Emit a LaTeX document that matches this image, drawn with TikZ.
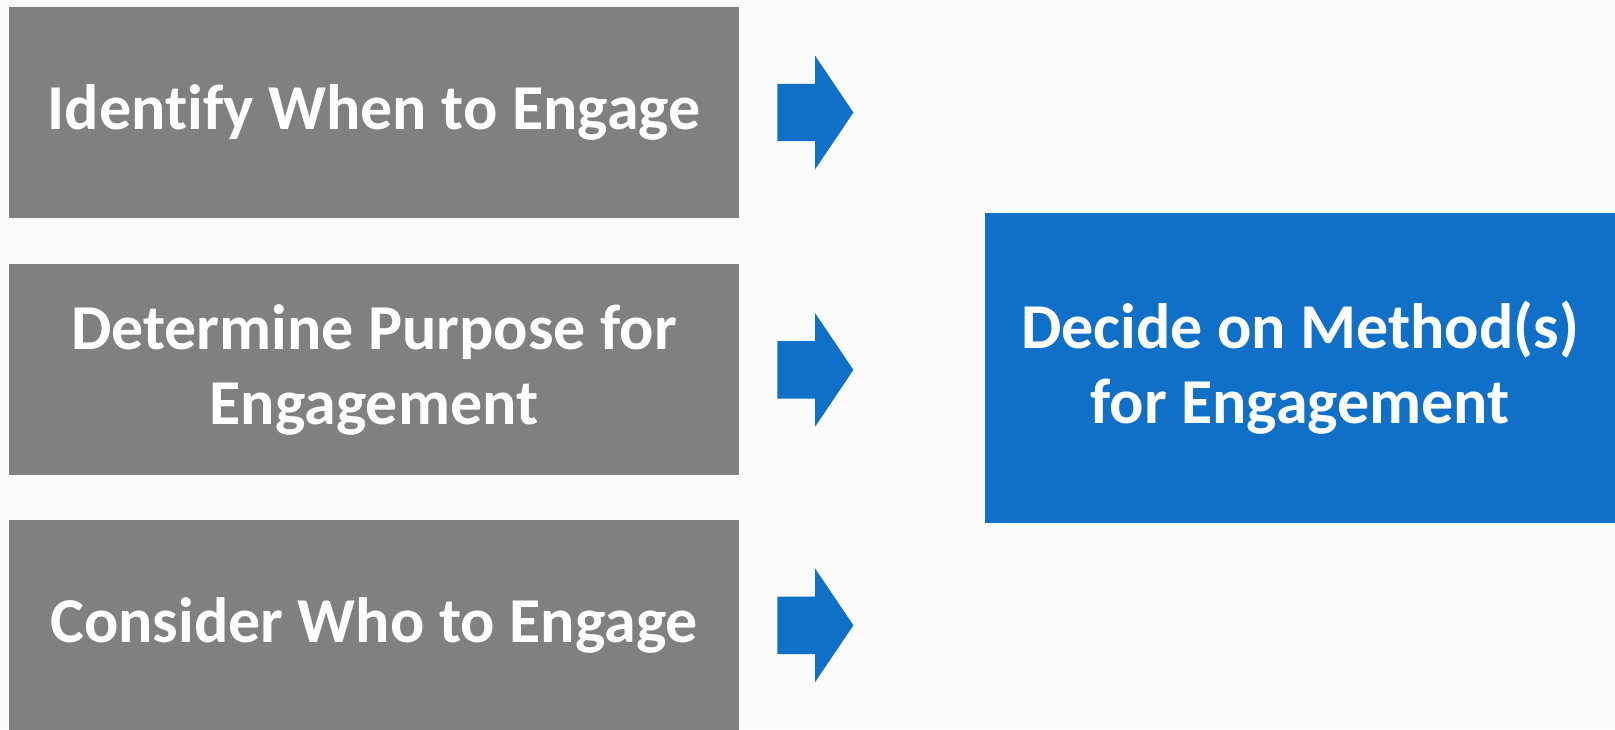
\documentclass[tikz,border=0pt]{standalone}
\usepackage{fontspec}
\setmainfont{Carlito}[Ligatures={NoCommon}]
\usepackage{tikz}
\usetikzlibrary{positioning}
\usetikzlibrary{shapes.arrows}
\definecolor{stepgray}{RGB}{128,128,128}
\definecolor{stepblue}{RGB}{16,112,200}
\definecolor{paper}{RGB}{251,251,251}

\begin{document}
\begin{tikzpicture}[x=1pt, y=-1pt,
graynode/.style={rectangle, fill=stepgray, text=white, minimum width=730pt, minimum height=211pt, align=center, font=\fontsize{64}{75}\selectfont\bfseries},
bluenode/.style={rectangle, fill=stepblue, text=white, minimum width=630pt, minimum height=310pt, align=center, font=\fontsize{64}{75}\selectfont\bfseries},
arrownode/.style={single arrow, fill=stepblue, inner xsep=0pt, inner ysep=28.5pt, minimum height=76pt, minimum width=113pt, single arrow head extend=28pt, single arrow tip angle=112, single arrow head indent=0pt},
]
%Background
\fill[paper] (0,0) rectangle (1615,729);
\useasboundingbox (0,0) rectangle (1615,729);

%Nodes
\node[graynode]      (when)                               at (374,112.5) {Identify When to Engage};
\node[graynode]      (purpose)       [below=46pt of when]    {Determine Purpose for\\Engagement};
\node[graynode]      (who)           [below=44pt of purpose] {Consider Who to Engage};
\node[bluenode]      (method)                             at (1300,368)  {Decide on Method(s)\\for Engagement};

%Arrows
\node[arrownode]     (a1)            [right=38pt of when]    {};
\node[arrownode]     (a2)            [right=38pt of purpose] {};
\node[arrownode]     (a3)            [right=38pt of who]     {};
\end{tikzpicture}
\end{document}
